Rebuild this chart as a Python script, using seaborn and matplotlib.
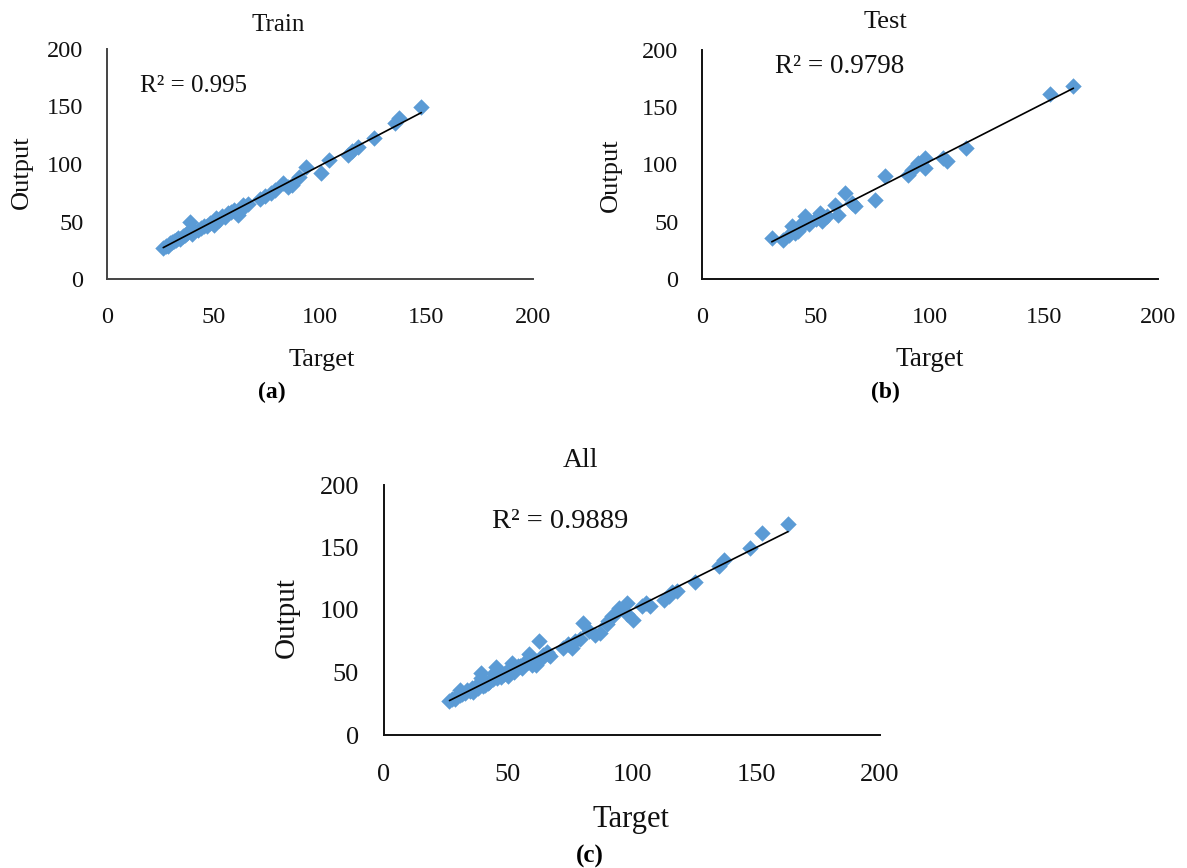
import numpy as np
import matplotlib
matplotlib.use("Agg")
import matplotlib.pyplot as plt
import seaborn as sns

# Target / output pairs of the training set
train_target = [26.4, 27.5, 28.5, 29.5, 30.7, 31.5, 32.5, 33.5, 34.5, 35.5,
                36.5, 37.7, 39.0, 40.0, 41.0, 42.5, 44.0, 45.5, 47.0, 48.5,
                50.0, 51.0, 52.5, 54.0, 55.5, 56.6, 58.0, 59.4, 61.3, 62.5,
                64.0, 66.0, 72.0, 74.0, 77.0, 79.0, 82.5, 85.0, 87.0, 90.0,
                93.4, 100.5, 104.0, 113.0, 115.0, 118.0, 125.5, 135.0, 137.0, 147.6]
train_output = [27.0, 29.0, 28.5, 31.5, 32.0, 33.0, 34.0, 35.7, 35.0, 37.5,
                38.0, 40.0, 49.6, 39.0, 41.5, 42.6, 44.5, 46.0, 46.5, 48.5,
                47.0, 53.0, 51.0, 55.0, 54.0, 57.4, 58.5, 60.0, 55.7, 59.0,
                64.0, 65.0, 70.0, 72.5, 75.0, 77.0, 83.5, 80.0, 82.0, 88.7,
                97.4, 92.0, 103.5, 108.0, 111.0, 115.0, 122.6, 135.6, 140.0, 149.6]

# Target / output pairs of the test set
test_target = [30.6, 35.7, 38.0, 39.3, 40.8, 42.0, 43.7, 44.5, 45.0, 47.0,
               50.0, 51.8, 52.5, 55.0, 58.3, 59.8, 62.7, 65.6, 67.0, 75.9,
               80.3, 90.4, 92.0, 94.7, 97.8, 97.8, 105.8, 107.3, 116.0, 152.6, 162.9]
test_output = [35.7, 34.2, 38.0, 45.9, 40.0, 42.0, 45.9, 50.0, 54.7, 48.0,
               52.0, 57.6, 50.3, 55.0, 65.0, 56.0, 75.2, 66.4, 63.4, 69.3,
               89.7, 91.0, 95.6, 101.4, 97.0, 105.8, 106.0, 103.0, 114.6, 161.4, 168.7]

ticks = [0, 50, 100, 150, 200]
titles = ["Train", "Test", "All"]
r2_labels = ["R\u00b2 = 0.995", "R\u00b2 = 0.9798", "R\u00b2 = 0.9889"]
captions = ["(a)", "(b)", "(c)"]

all_target = train_target + test_target
all_output = train_output + test_output

sns.set_style("white")
plt.rcParams["font.family"] = ["Liberation Serif", "DejaVu Serif"]

W, H = 1187, 868
fig = plt.figure(figsize=(W / 100, H / 100), dpi=100)
fig.patch.set_facecolor("white")


def axes_px(left, right, top, bottom):
    return fig.add_axes([left / W, 1 - bottom / H, (right - left) / W, (bottom - top) / H])


def text_px(x, y, s, **kw):
    fig.text(x / W, 1 - y / H, s, ha="center", va="center", **kw)


panels = [
    dict(box=(107, 533, 49, 279), x=train_target, y=train_output, tick=17.5, spine="#444444",
         title=(278, 25, 18), r2=(15.5, 168, 18), xl=(322, 360, 19), yl=(22, 172, 19),
         cap=(272, 392, 17), pad=(20, 17)),
    dict(box=(702, 1158, 50, 279), x=test_target, y=test_output, tick=17.5, spine="#111111",
         title=(885, 22, 19), r2=(32, 186, 19.5), xl=(930, 360, 19.5), yl=(611, 175, 19),
         cap=(885, 392, 17), pad=(20, 17)),
    dict(box=(384, 880, 485, 735), x=all_target, y=all_output, tick=19, spine="#111111",
         title=(580, 460, 20), r2=(43.5, 171, 20.5), xl=(631, 820, 22), yl=(287, 618, 21),
         cap=(590, 856, 18), pad=(21, 18)),
]

blue = "#5B9BD5"
for i, p in enumerate(panels):
    ax = axes_px(*p["box"])
    sns.regplot(x=np.array(p["x"]), y=np.array(p["y"]), ax=ax, ci=None, marker="D",
                scatter_kws=dict(s=70, color=blue, linewidths=0, alpha=1),
                line_kws=dict(color="black", linewidth=1.2))
    ax.set_xlim(0, 200)
    ax.set_ylim(0, 200)
    ax.set_xticks(ticks)
    ax.set_yticks(ticks)
    ax.set_xlabel("")
    ax.set_ylabel("")
    for side in ("top", "right"):
        ax.spines[side].set_visible(False)
    for side in ("left", "bottom"):
        ax.spines[side].set_color(p["spine"])
        ax.spines[side].set_linewidth(1.4)
    ax.tick_params(axis="x", length=0, labelsize=p["tick"], pad=p["pad"][0], colors="#111111")
    ax.tick_params(axis="y", length=0, labelsize=p["tick"], pad=p["pad"][1], colors="#111111")
    ax.grid(False)

    rx, ry, rs = p["r2"]
    ax.text(rx, ry, r2_labels[i], fontsize=rs, ha="left", va="center", color="#111111")

    tx, ty, ts = p["title"]
    text_px(tx, ty, titles[i], fontsize=ts, color="#111111")
    xx, xy, xs = p["xl"]
    text_px(xx, xy, "Target", fontsize=xs, color="#111111")
    yx, yy, ys = p["yl"]
    text_px(yx, yy, "Output", fontsize=ys, rotation=90, color="#111111")
    cx, cy, cs = p["cap"]
    text_px(cx, cy, captions[i], fontsize=cs, fontweight="bold", color="black")

fig.savefig("out.png", dpi=100, facecolor="white")
